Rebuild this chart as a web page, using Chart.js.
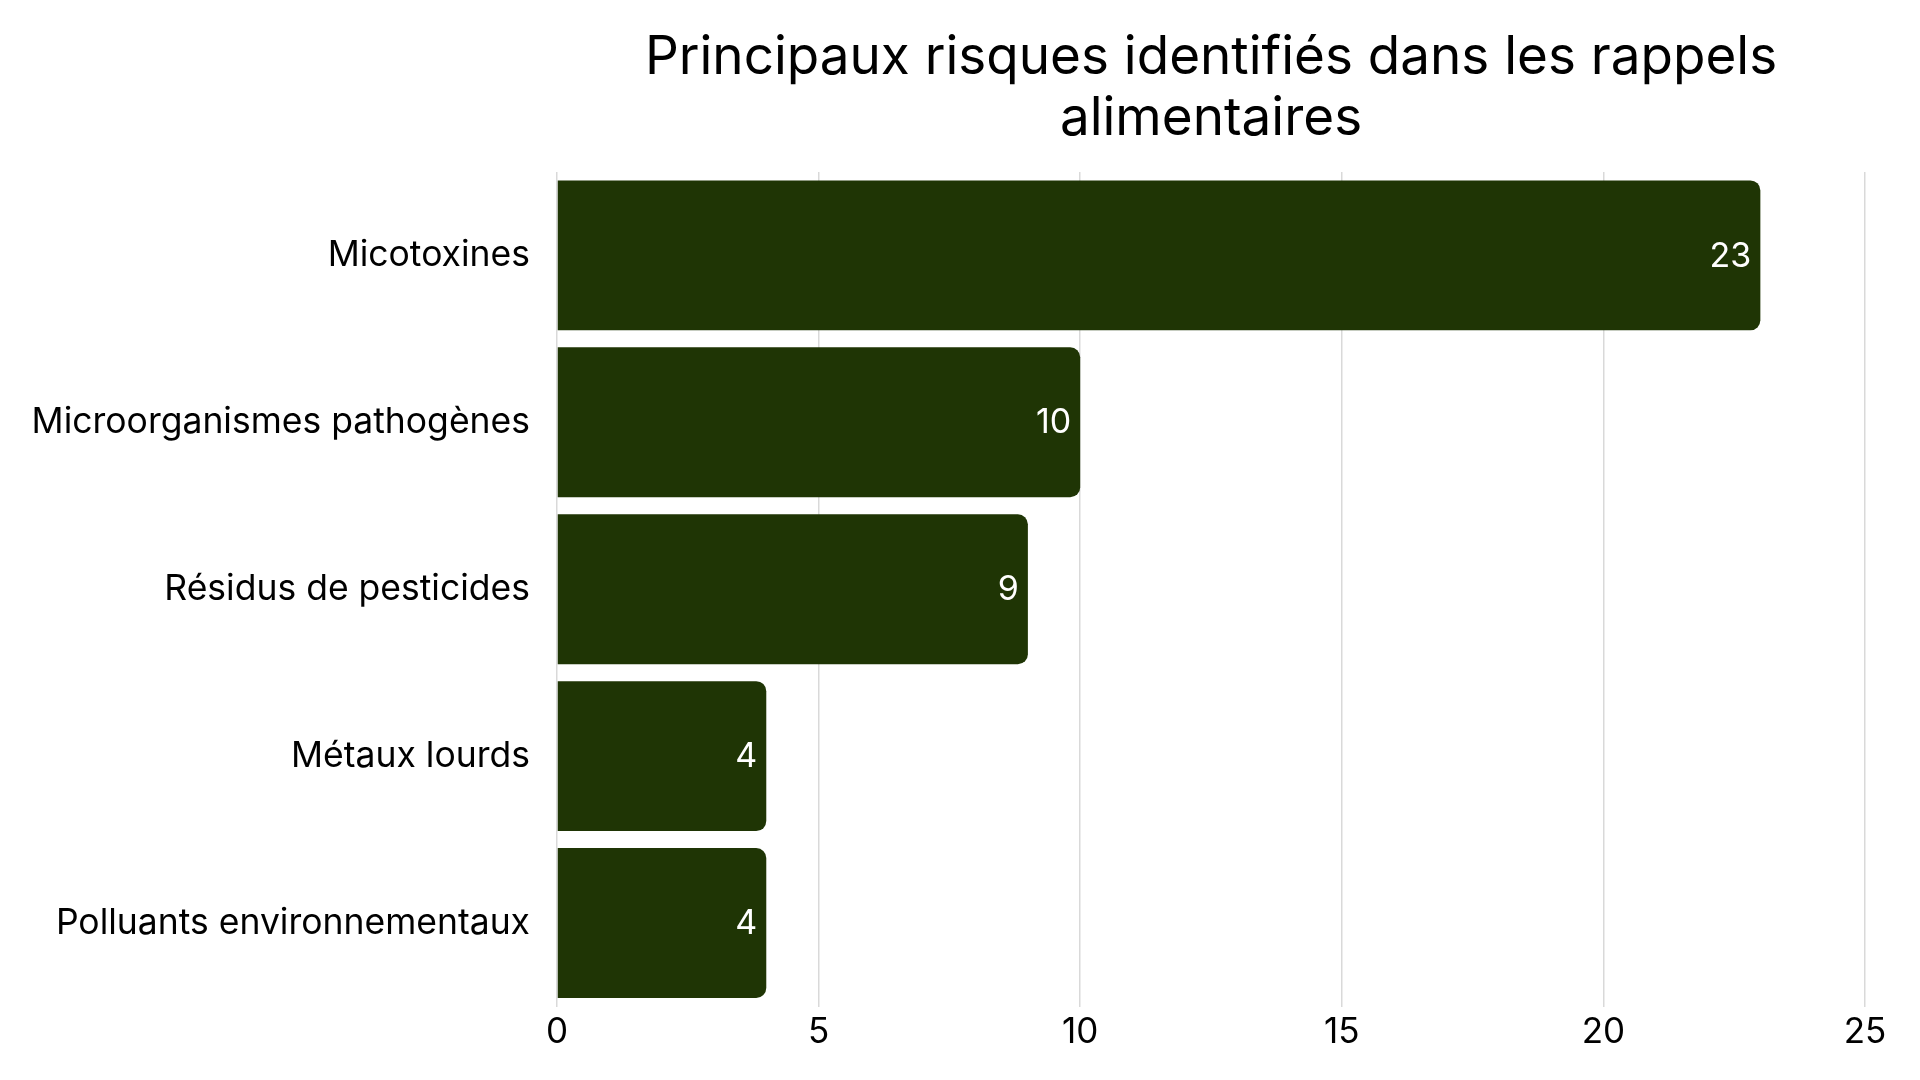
<!DOCTYPE html>
<html>
<head>
<meta charset="utf-8">
<script src="https://cdn.jsdelivr.net/npm/chart.js@4"></script>
<style>
  html, body { margin: 0; padding: 0; background: #fff; }
  #wrap { width: 1920px; height: 1080px; }
</style>
</head>
<body>
<div id="wrap"><canvas id="riskChart" width="1920" height="1080"></canvas></div>
<script>
// Categories and counts
const categories = [
    "Micotoxines",
    "Microorganismes pathogènes",
    "Résidus de pesticides",
    "Métaux lourds",
    "Polluants environnementaux"
];
const recallCounts = [23, 10, 9, 4, 4];
const xTicks = [0, 5, 10, 15, 20, 25];

const barColor = "#1f3505";

// Simple value labels drawn inside the end of each bar
const valueLabels = {
    id: "valueLabels",
    afterDatasetsDraw(chart) {
        const ctx = chart.ctx;
        const meta = chart.getDatasetMeta(0);
        ctx.save();
        ctx.fillStyle = "#ffffff";
        ctx.font = "34px Inter";
        ctx.textAlign = "right";
        ctx.textBaseline = "middle";
        meta.data.forEach((bar, i) => {
            ctx.fillText(String(recallCounts[i]), bar.x - 9, bar.y + 1);
        });
        ctx.restore();
    }
};

const ctx = document.getElementById("riskChart").getContext("2d");

new Chart(ctx, {
    type: "bar",
    data: {
        labels: categories,
        datasets: [{
            data: recallCounts,
            backgroundColor: barColor,
            borderWidth: 0,
            borderRadius: 10,
            borderSkipped: "start",
            categoryPercentage: 1,
            barPercentage: 0.898,
        }],
    },
    options: {
        indexAxis: "y",
        responsive: false,
        animation: false,
        layout: { padding: { left: 0, right: 55, top: 0, bottom: 0 } },
        plugins: {
            legend: { display: false },
            tooltip: { enabled: false },
            title: {
                display: true,
                fullSize: false, // centre over the plot area, not the canvas
                text: ["Principaux risques identifiés dans les rappels", "alimentaires"],
                color: "#000",
                font: { family: "Inter", size: 53, weight: "normal", lineHeight: 1.15 },
                padding: { top: 28, bottom: 22 },
            },
        },
        scales: {
            x: {
                min: 0,
                max: 25,
                afterBuildTicks: (scale) => {
                    scale.ticks = xTicks.map(v => ({ value: v }));
                },
                afterFit: (scale) => {
                    scale.height = 73.5;
                    scale.paddingLeft = 0;
                    scale.paddingRight = 0;
                },
                grid: { color: "#d9d9d9", lineWidth: 1.5, drawTicks: false },
                border: { display: false },
                ticks: {
                    color: "#000",
                    padding: 5,
                    font: { family: "Inter", size: 35 },
                },
            },
            y: {
                afterFit: (scale) => {
                    scale.width = 557;
                    scale.paddingTop = 0;
                    scale.paddingBottom = 0;
                },
                grid: { display: false, drawTicks: false },
                border: { display: false },
                ticks: {
                    color: "#000",
                    padding: 27,
                    font: { family: "Inter", size: 35.5 },
                },
            },
        },
    },
    plugins: [valueLabels],
});
</script>
</body>
</html>
